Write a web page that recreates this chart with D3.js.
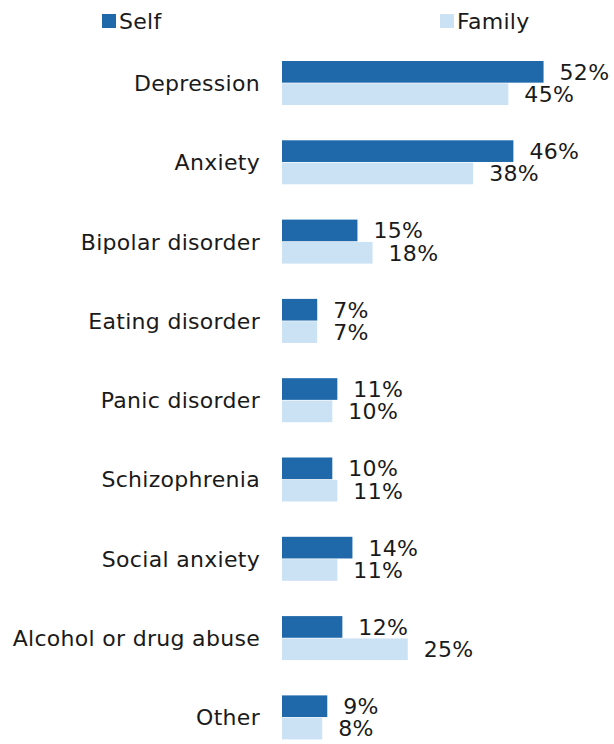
<!DOCTYPE html>
<html><head><meta charset="utf-8">
<script src="https://cdn.jsdelivr.net/npm/d3@7"></script>
<style>html,body{margin:0;padding:0;background:#fff;}svg{display:block;} text{letter-spacing:0.3px;}</style>
</head><body>
<script>
const categories = ["Depression","Anxiety","Bipolar disorder","Eating disorder","Panic disorder","Schizophrenia","Social anxiety","Alcohol or drug abuse","Other"];
const seriesNames = ["Self","Family"];
const selfValues = [52,46,15,7,11,10,14,12,9];
const familyValues = [45,38,18,7,10,11,11,25,8];
const colors = ["#1f69aa","#cbe1f4"];

const W = 614, H = 744;
const font = "'DejaVu Sans', Verdana, sans-serif";
const fs = 22;
const svg = d3.select("body").append("svg").attr("width", W).attr("height", H);

const x = d3.scaleLinear().domain([0, 60]).range([282, 282 + 60 * 5.03]);
const y = d3.scaleBand().domain(categories).range([43.35, 43.35 + 9 * 79.3])
  .paddingInner(0.445).paddingOuter(0.2225);
const sub = d3.scaleBand().domain(seriesNames).range([0, y.bandwidth()]).paddingInner(0.03);

const data = categories.map((c, i) => ({cat: c, vals: [selfValues[i], familyValues[i]]}));

const g = svg.append("g");
const groups = g.selectAll("g.cat").data(data).join("g")
  .attr("transform", d => `translate(0,${y(d.cat)})`);

groups.selectAll("rect").data(d => d.vals.map((v, k) => ({v, k})))
  .join("rect")
  .attr("x", x(0))
  .attr("y", d => sub(seriesNames[d.k]))
  .attr("width", d => x(d.v) - x(0))
  .attr("height", sub.bandwidth())
  .attr("fill", d => colors[d.k]);

groups.selectAll("text.val").data(d => d.vals.map((v, k) => ({v, k})))
  .join("text").attr("class", "val")
  .attr("x", d => x(d.v) + 16)
  .attr("y", d => sub(seriesNames[d.k]) + sub.bandwidth() / 2)
  .attr("dy", "0.36em")
  .attr("font-family", font).attr("font-size", fs).attr("fill", "#1a1a1a")
  .text(d => d.v + "%");

// category axis labels
const yAxis = d3.axisLeft(y).tickSize(0).tickPadding(0);
const ax = svg.append("g").attr("transform", `translate(260,0)`).call(yAxis);
ax.select(".domain").remove();
ax.selectAll("text").attr("font-family", font).attr("font-size", fs).attr("fill", "#1a1a1a").attr("dy", "0.36em");

// legend
const legendX = [102, 440];
const leg = svg.selectAll("g.leg").data(seriesNames).join("g")
  .attr("transform", (d, i) => `translate(${legendX[i]},14)`);
leg.append("rect").attr("width", 14).attr("height", 14).attr("fill", (d, i) => colors[i]);
leg.append("text").attr("x", 17).attr("y", 7).attr("dy", "0.36em")
  .attr("font-family", font).attr("font-size", fs).attr("fill", "#1a1a1a").text(d => d);
</script>
</body></html>
